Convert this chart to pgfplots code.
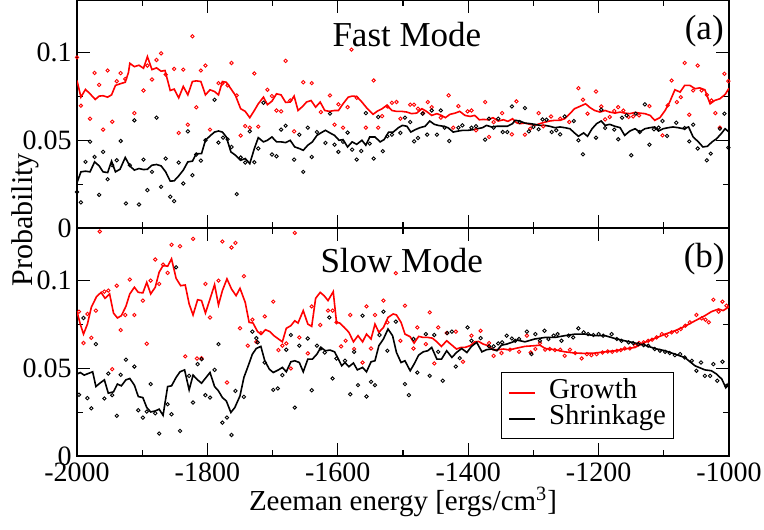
\documentclass[border=0pt]{standalone}
\usepackage{fontspec}
\setmainfont{Liberation Serif}
\usepackage{pgfplots}
\pgfplotsset{compat=1.18}
\begin{document}
\begin{tikzpicture}
\pgfplotsset{
  panel/.style={
    scale only axis, width=326pt, height=114pt,
    xmin=-2000, xmax=-1000, ymin=0, ymax=0.13,
    xtick={-2000,-1800,-1600,-1400,-1200,-1000}, minor x tick num=1,
    ytick={0,0.05,0.1}, yticklabels={0,0.05,0.1}, minor y tick num=1,
    tick align=inside, tick pos=both,
    major tick length=6.3pt, minor tick length=3.2pt,
    axis line style={line width=0.6pt},
    every tick/.style={black, line width=0.6pt},
    /pgf/number format/assume math mode=true,
    tick label style={font=\fontsize{14}{16}\selectfont},
    yticklabel style={inner xsep=2.5pt, inner ysep=0pt},
    xticklabel style={inner ysep=0pt, inner xsep=0pt, yshift=-3.3pt},
  },
  gline/.style={red, line width=0.8pt},
  sline/.style={black, line width=0.8pt},
  gdot/.style={only marks, mark=o, mark size=0.85pt, red, mark options={line width=0.45pt}, forget plot},
  sdot/.style={only marks, mark=o, mark size=0.85pt, black, mark options={line width=0.45pt}, forget plot},
}
% ---------------- top panel: Fast Mode ----------------
\begin{axis}[panel, at={(0,114pt)}, xticklabels={}]
\addplot[gdot] coordinates {(-2000,0.0973) (-1994,0.0697) (-1980,0.0623) (-1973,0.0884) (-1966,0.0816) (-1960,0.0561) (-1953,0.0898) (-1946,0.0606) (-1939,0.0837) (-1933,0.0883) (-1926,0.0850) (-1912,0.0655) (-1898,0.0784) (-1892,0.0926) (-1885,0.0847) (-1878,0.0958) (-1871,0.0996) (-1864,0.0875) (-1851,0.0907) (-1844,0.0542) (-1837,0.0903) (-1830,0.0589) (-1823,0.1093) (-1817,0.0688) (-1810,0.0898) (-1803,0.0926) (-1796,0.0561) (-1783,0.0826) (-1777,0.0824) (-1769,0.0813) (-1763,0.0941) (-1755,0.0756) (-1749,0.0527) (-1742,0.0581) (-1735,0.0572) (-1728,0.0881) (-1722,0.0578) (-1708,0.0788) (-1701,0.0752) (-1694,0.0670) (-1687,0.0665) (-1680,0.0953) (-1673,0.0727) (-1667,0.0551)
(-1653,0.0831) (-1640,0.0826) (-1626,0.0661) (-1612,0.0756) (-1605,0.0589) (-1599,0.0705) (-1592,0.0572) (-1585,0.0689) (-1579,0.1017) (-1571,0.0742) (-1557,0.0572) (-1545,0.0841) (-1538,0.0572) (-1532,0.0638) (-1524,0.0693) (-1517,0.0714) (-1510,0.0718) (-1504,0.0623) (-1489,0.0703) (-1483,0.0703) (-1477,0.0680) (-1469,0.0655) (-1462,0.0718) (-1456,0.0689) (-1442,0.0629) (-1430,0.0756) (-1423,0.0572) (-1415,0.0695) (-1401,0.0665) (-1395,0.0670) (-1388,0.0557) (-1374,0.0718) (-1368,0.0519) (-1361,0.0604) (-1348,0.0655) (-1333,0.0534)
(-1326,0.0722) (-1313,0.0532) (-1305,0.0566) (-1292,0.0655) (-1285,0.0580) (-1273,0.0636) (-1259,0.0623) (-1245,0.0604) (-1231,0.0797) (-1224,0.0731) (-1217,0.0652) (-1204,0.0778) (-1196,0.0693) (-1190,0.0619) (-1183,0.0633) (-1176,0.0667) (-1170,0.0689) (-1162,0.0670) (-1154,0.0633) (-1147,0.0636) (-1138,0.0642) (-1122,0.0695) (-1102,0.0528) (-1094,0.0699) (-1088,0.0841) (-1080,0.0718) (-1074,0.0746) (-1068,0.0941) (-1061,0.0646) (-1055,0.0784) (-1048,0.0926) (-1042,0.0784) (-1034,0.0759) (-1027,0.0727) (-1021,0.0655) (-1014,0.0572) (-1007,0.0879) (-1001,0.0837)};
\addplot[sdot] coordinates {(-2000,0.0205) (-1994,0.0146) (-1987,0.0377) (-1980,0.0492) (-1973,0.0405) (-1966,0.0189) (-1960,0.0434) (-1953,0.0278) (-1946,0.0358) (-1939,0.0386) (-1933,0.0496) (-1925,0.0140) (-1919,0.0358) (-1912,0.0614) (-1905,0.0134) (-1898,0.0390) (-1892,0.0216) (-1885,0.0320) (-1878,0.0629) (-1871,0.0235) (-1864,0.0396) (-1857,0.0178) (-1851,0.0153) (-1844,0.0373) (-1837,0.0254) (-1830,0.0551) (-1823,0.0301) (-1817,0.0419) (-1810,0.0384) (-1803,0.0500) (-1789,0.0731) (-1783,0.0487) (-1776,0.0515) (-1769,0.0506) (-1763,0.0462) (-1755,0.0193) (-1749,0.0402) (-1742,0.0373) (-1735,0.0551) (-1728,0.0375) (-1722,0.0453) (-1714,0.0714) (-1701,0.0419) (-1694,0.0409) (-1687,0.0561) (-1680,0.0583) (-1667,0.0390)
(-1659,0.0532) (-1653,0.0320) (-1646,0.0572) (-1640,0.0405) (-1632,0.0547) (-1619,0.0485) (-1612,0.0652) (-1605,0.0475) (-1599,0.0434) (-1592,0.0491) (-1585,0.0544) (-1578,0.0447) (-1571,0.0390) (-1564,0.0439) (-1557,0.0655) (-1551,0.0481) (-1545,0.0396) (-1538,0.0633) (-1531,0.0438) (-1524,0.0523) (-1517,0.0532) (-1504,0.0542) (-1497,0.0629) (-1489,0.0604) (-1483,0.0494) (-1477,0.0513) (-1470,0.0652) (-1463,0.0532) (-1456,0.0670) (-1448,0.0532) (-1442,0.0670) (-1436,0.0572) (-1429,0.0496) (-1415,0.0572) (-1409,0.0585) (-1395,0.0572) (-1388,0.0580) (-1374,0.0504) (-1368,0.0623) (-1361,0.0572) (-1354,0.0623) (-1347,0.0547) (-1340,0.0547) (-1333,0.0693)
(-1321,0.0604) (-1313,0.0684) (-1307,0.0551) (-1300,0.0576) (-1292,0.0563) (-1286,0.0619) (-1280,0.0617) (-1272,0.0547) (-1265,0.0557) (-1259,0.0534) (-1252,0.0636) (-1238,0.0610) (-1231,0.0500) (-1224,0.0420) (-1204,0.0515) (-1196,0.0674) (-1190,0.0570) (-1176,0.0561) (-1170,0.0506) (-1164,0.0629) (-1157,0.0642) (-1150,0.0415) (-1143,0.0652) (-1137,0.0547) (-1129,0.0705) (-1122,0.0475) (-1115,0.0563) (-1108,0.0572) (-1102,0.0610) (-1095,0.0525) (-1081,0.0600) (-1068,0.0570) (-1061,0.0494) (-1055,0.0589) (-1048,0.0453) (-1034,0.0386) (-1028,0.0424) (-1014,0.0566) (-1007,0.0652) (-1001,0.0458)};
\addplot[gline] coordinates {(-2000,0.0841) (-1994,0.0746) (-1987,0.0790) (-1980,0.0765) (-1972,0.0733) (-1966,0.0752) (-1960,0.0754) (-1953,0.0746) (-1947,0.0759) (-1941,0.0813) (-1934,0.0822) (-1926,0.0831) (-1921,0.0888) (-1919,0.0939) (-1912,0.0920) (-1905,0.0928) (-1898,0.0911) (-1892,0.0977) (-1885,0.0903) (-1878,0.0913) (-1871,0.0894) (-1865,0.0898) (-1857,0.0784) (-1851,0.0792) (-1844,0.0742) (-1837,0.0807) (-1830,0.0759) (-1823,0.0835) (-1817,0.0839) (-1810,0.0835) (-1803,0.0759) (-1796,0.0788) (-1789,0.0778) (-1783,0.0759) (-1777,0.0835) (-1771,0.0831) (-1764,0.0794) (-1757,0.0756) (-1749,0.0680) (-1742,0.0665) (-1735,0.0629) (-1728,0.0670) (-1722,0.0708) (-1714,0.0746) (-1708,0.0703) (-1701,0.0723) (-1694,0.0765) (-1687,0.0759) (-1680,0.0716) (-1673,0.0718) (-1667,0.0752)
(-1661,0.0670) (-1654,0.0693) (-1648,0.0718) (-1641,0.0727) (-1634,0.0689) (-1627,0.0718) (-1620,0.0670) (-1613,0.0665) (-1605,0.0670) (-1599,0.0670) (-1592,0.0708) (-1584,0.0746) (-1578,0.0752) (-1571,0.0750) (-1563,0.0718) (-1556,0.0686) (-1546,0.0648) (-1539,0.0667) (-1532,0.0680) (-1525,0.0699) (-1517,0.0670) (-1510,0.0665) (-1502,0.0665) (-1494,0.0661) (-1487,0.0652) (-1479,0.0655) (-1471,0.0680) (-1464,0.0665) (-1456,0.0642) (-1448,0.0652) (-1441,0.0642) (-1435,0.0629) (-1428,0.0648) (-1420,0.0655) (-1413,0.0665) (-1405,0.0642) (-1397,0.0636) (-1390,0.0642) (-1383,0.0617) (-1377,0.0619) (-1369,0.0617) (-1362,0.0629) (-1354,0.0610) (-1346,0.0617) (-1339,0.0608) (-1332,0.0623)
(-1326,0.0600) (-1321,0.0595) (-1313,0.0598) (-1305,0.0591) (-1298,0.0585) (-1290,0.0595) (-1282,0.0604) (-1275,0.0610) (-1267,0.0614) (-1259,0.0614) (-1252,0.0623) (-1244,0.0652) (-1237,0.0680) (-1229,0.0693) (-1220,0.0708) (-1213,0.0686) (-1206,0.0670) (-1198,0.0661) (-1190,0.0670) (-1183,0.0661) (-1175,0.0655) (-1167,0.0661) (-1160,0.0655) (-1152,0.0652) (-1144,0.0659) (-1137,0.0655) (-1129,0.0652) (-1121,0.0642) (-1114,0.0614) (-1106,0.0629) (-1098,0.0670) (-1091,0.0718) (-1083,0.0788) (-1075,0.0775) (-1068,0.0813) (-1060,0.0813) (-1052,0.0794) (-1045,0.0799) (-1037,0.0788) (-1029,0.0708) (-1022,0.0727) (-1014,0.0737) (-1006,0.0761) (-1000,0.0797)};
\addplot[sline] coordinates {(-2000,0.0258) (-1994,0.0320) (-1987,0.0324) (-1980,0.0320) (-1973,0.0377) (-1966,0.0354) (-1960,0.0320) (-1953,0.0316) (-1947,0.0381) (-1941,0.0320) (-1934,0.0335) (-1926,0.0402) (-1919,0.0354) (-1912,0.0330) (-1905,0.0339) (-1898,0.0333) (-1892,0.0335) (-1885,0.0358) (-1878,0.0362) (-1871,0.0354) (-1864,0.0320) (-1857,0.0267) (-1851,0.0269) (-1844,0.0297) (-1837,0.0330) (-1830,0.0377) (-1823,0.0381) (-1817,0.0424) (-1809,0.0424) (-1803,0.0500) (-1796,0.0525) (-1789,0.0547) (-1783,0.0553) (-1777,0.0547) (-1771,0.0519) (-1764,0.0434) (-1757,0.0415) (-1749,0.0386) (-1742,0.0396) (-1735,0.0367) (-1728,0.0453) (-1722,0.0515) (-1714,0.0491) (-1708,0.0500) (-1701,0.0519) (-1694,0.0491) (-1687,0.0491) (-1680,0.0487) (-1673,0.0500)
(-1666,0.0462) (-1659,0.0453) (-1653,0.0443) (-1646,0.0472) (-1639,0.0491) (-1632,0.0528) (-1626,0.0542) (-1619,0.0557) (-1612,0.0542) (-1605,0.0528) (-1598,0.0500) (-1592,0.0504) (-1585,0.0462) (-1578,0.0491) (-1571,0.0477) (-1563,0.0500) (-1557,0.0472) (-1551,0.0519) (-1543,0.0519) (-1535,0.0491) (-1529,0.0504) (-1522,0.0547) (-1515,0.0547) (-1507,0.0572) (-1501,0.0585) (-1494,0.0580) (-1488,0.0547) (-1481,0.0561) (-1474,0.0572) (-1466,0.0580) (-1459,0.0610) (-1452,0.0591) (-1446,0.0585) (-1438,0.0580) (-1431,0.0572) (-1423,0.0547) (-1415,0.0553) (-1408,0.0557) (-1400,0.0557) (-1392,0.0561) (-1386,0.0566) (-1378,0.0572) (-1372,0.0585) (-1364,0.0576) (-1356,0.0580) (-1349,0.0580) (-1340,0.0580) (-1332,0.0595)
(-1328,0.0614) (-1321,0.0610) (-1313,0.0598) (-1305,0.0595) (-1298,0.0591) (-1290,0.0585) (-1282,0.0585) (-1275,0.0580) (-1267,0.0572) (-1259,0.0576) (-1252,0.0572) (-1244,0.0566) (-1237,0.0542) (-1231,0.0523) (-1223,0.0542) (-1217,0.0523) (-1210,0.0566) (-1203,0.0595) (-1196,0.0610) (-1190,0.0585) (-1183,0.0591) (-1175,0.0580) (-1167,0.0572) (-1160,0.0528) (-1152,0.0553) (-1144,0.0566) (-1137,0.0547) (-1129,0.0566) (-1121,0.0572) (-1114,0.0576) (-1108,0.0553) (-1101,0.0566) (-1093,0.0572) (-1086,0.0576) (-1078,0.0572) (-1070,0.0566) (-1062,0.0576) (-1055,0.0519) (-1047,0.0491) (-1040,0.0462) (-1033,0.0466) (-1026,0.0491) (-1019,0.0509) (-1011,0.0542) (-1006,0.0566) (-1000,0.0547)};
\node[anchor=base, font=\fontsize{17.5}{20}\selectfont] at (rel axis cs:0.506,0.798) {Fast Mode};
\node[anchor=base, font=\fontsize{17.5}{20}\selectfont] at (rel axis cs:0.962,0.825) {(a)};
\end{axis}
% ---------------- bottom panel: Slow Mode ----------------
\begin{axis}[panel, at={(0,0)},
  xticklabels={-2000,-1800,-1600,-1400,-1200,-1000},
  xlabel={Zeeman energy [ergs/cm\textsuperscript{3}]},
  xlabel style={at={(axis description cs:0.5,-0.241)}, anchor=base, inner sep=0pt, font=\fontsize{14.5}{17}\selectfont},
  legend style={at={(0.65,0.367)}, anchor=north west, draw=black, line width=0.5pt,
    font=\fontsize{14.4}{16}\selectfont, inner xsep=3.65pt, inner ysep=3.5pt,
    row sep=0pt, column sep=6.5pt,
    nodes={inner sep=0pt, text height=9.5pt, text depth=3.5pt}},
  legend cell align=left,
  legend image code/.code={\draw[#1] (0pt,0pt) -- (13pt,0pt);},
]
\addplot[gdot] coordinates {(-1997,0.0823) (-1990,0.0644) (-1984,0.0810) (-1978,0.0674) (-1971,0.0829) (-1965,0.1280) (-1958,0.0937) (-1952,0.0943) (-1946,0.0495) (-1939,0.0971) (-1933,0.0718) (-1926,0.0804) (-1919,0.1006) (-1912,0.0804) (-1899,0.0886) (-1893,0.0640) (-1887,0.1000) (-1880,0.1120) (-1874,0.0981) (-1868,0.1091) (-1861,0.1044) (-1855,0.1204) (-1842,0.1196) (-1834,0.0568) (-1822,0.1238) (-1816,0.0556) (-1809,0.0558) (-1803,0.0981) (-1796,0.0790) (-1783,0.1000) (-1777,0.1223) (-1770,0.0419) (-1763,0.1189) (-1757,0.1215) (-1750,0.0728) (-1744,0.1025) (-1738,0.0629) (-1731,0.0777) (-1725,0.0651) (-1718,0.0701) (-1712,0.0796) (-1699,0.0880) (-1691,0.0604) (-1685,0.0629) (-1679,0.0642) (-1672,0.0499) (-1666,0.1272)
(-1659,0.0676) (-1646,0.0585) (-1640,0.0853) (-1627,0.0747) (-1615,0.0829) (-1608,0.0829) (-1602,0.0762) (-1595,0.0625) (-1588,0.0657) (-1581,0.0804) (-1575,0.0610) (-1562,0.0533) (-1556,0.0853) (-1549,0.0613) (-1543,0.0804) (-1530,0.0886) (-1524,0.0762) (-1511,0.1042) (-1504,0.0657) (-1497,0.0857) (-1484,0.0613) (-1478,0.0733) (-1465,0.0638) (-1459,0.0819) (-1452,0.0528) (-1446,0.0733) (-1433,0.0701) (-1419,0.0709) (-1408,0.0537) (-1395,0.0686) (-1381,0.0714) (-1368,0.0644) (-1361,0.0571) (-1349,0.0587) (-1336,0.0606)
(-1322,0.0594) (-1310,0.0686) (-1304,0.0590) (-1297,0.0610) (-1290,0.0644) (-1282,0.0606) (-1275,0.0610) (-1267,0.0604) (-1259,0.0606) (-1252,0.0571) (-1244,0.0606) (-1236,0.0587) (-1226,0.0556) (-1218,0.0581) (-1211,0.0575) (-1203,0.0581) (-1194,0.0590) (-1186,0.0596) (-1179,0.0594) (-1172,0.0600) (-1166,0.0604) (-1160,0.0613) (-1152,0.0613) (-1144,0.0629) (-1138,0.0644) (-1131,0.0648) (-1124,0.0657) (-1118,0.0663) (-1111,0.0676) (-1103,0.0695) (-1096,0.0686) (-1088,0.0705) (-1080,0.0709) (-1074,0.0724) (-1067,0.0743) (-1060,0.0762) (-1050,0.0804) (-1042,0.0785) (-1036,0.0777) (-1031,0.0762) (-1024,0.0891) (-1016,0.0823) (-1010,0.0880) (-1004,0.0857)};
\addplot[sdot] coordinates {(-1997,0.0349) (-1990,0.0787) (-1984,0.0330) (-1978,0.0272) (-1971,0.0638) (-1958,0.0328) (-1952,0.0470) (-1946,0.0347) (-1939,0.0229) (-1933,0.0463) (-1925,0.0549) (-1912,0.0510) (-1906,0.0261) (-1899,0.0219) (-1893,0.0253) (-1887,0.0410) (-1880,0.0244) (-1874,0.0128) (-1861,0.0295) (-1855,0.0238) (-1848,0.1076) (-1842,0.0143) (-1828,0.0457) (-1822,0.0305) (-1815,0.0524) (-1809,0.0552) (-1803,0.0347) (-1796,0.0333) (-1789,0.0491) (-1783,0.0638) (-1777,0.0190) (-1770,0.0219) (-1763,0.0120) (-1757,0.0371) (-1744,0.0337) (-1731,0.0709) (-1725,0.0672) (-1723,0.0648) (-1712,0.0533) (-1699,0.0377) (-1692,0.0385) (-1685,0.0461) (-1679,0.0606) (-1672,0.0690) (-1666,0.0276)
(-1659,0.0629) (-1646,0.0670) (-1640,0.0375) (-1632,0.0629) (-1626,0.0613) (-1620,0.0590) (-1613,0.0790) (-1608,0.0442) (-1602,0.0556) (-1589,0.0543) (-1581,0.0352) (-1575,0.0594) (-1569,0.0404) (-1562,0.0800) (-1556,0.0339) (-1549,0.0423) (-1543,0.0404) (-1536,0.0690) (-1530,0.0823) (-1524,0.0600) (-1511,0.0766) (-1497,0.0410) (-1491,0.0347) (-1484,0.0667) (-1478,0.0476) (-1465,0.0695) (-1459,0.0457) (-1452,0.0690) (-1446,0.0594) (-1439,0.0429) (-1432,0.0701) (-1425,0.0709) (-1419,0.0510) (-1413,0.0558) (-1401,0.0733) (-1395,0.0657) (-1381,0.0672) (-1368,0.0625) (-1361,0.0625) (-1354,0.0642) (-1348,0.0648) (-1341,0.0686) (-1333,0.0670) (-1328,0.0657)
(-1322,0.0667) (-1310,0.0709) (-1303,0.0581) (-1297,0.0695) (-1290,0.0657) (-1283,0.0714) (-1277,0.0667) (-1269,0.0686) (-1263,0.0695) (-1257,0.0657) (-1246,0.0686) (-1239,0.0676) (-1231,0.0728) (-1223,0.0705) (-1216,0.0695) (-1208,0.0690) (-1200,0.0695) (-1193,0.0686) (-1180,0.0695) (-1172,0.0667) (-1165,0.0657) (-1154,0.0648) (-1147,0.0644) (-1139,0.0638) (-1131,0.0632) (-1124,0.0629) (-1114,0.0610) (-1106,0.0600) (-1098,0.0594) (-1091,0.0587) (-1083,0.0575) (-1075,0.0581) (-1068,0.0562) (-1057,0.0543) (-1050,0.0486) (-1043,0.0533) (-1037,0.0457) (-1029,0.0457) (-1024,0.0524) (-1018,0.0429) (-1010,0.0537) (-1004,0.0400)};
\addplot[gline] coordinates {(-2000,0.0823) (-1995,0.0752) (-1990,0.0695) (-1984,0.0752) (-1978,0.0848) (-1970,0.0909) (-1963,0.0933) (-1957,0.0899) (-1950,0.0924) (-1944,0.0815) (-1938,0.0787) (-1932,0.0800) (-1925,0.0853) (-1919,0.0924) (-1912,0.0962) (-1906,0.0933) (-1899,0.0930) (-1893,0.0990) (-1887,0.0924) (-1880,0.0962) (-1874,0.1048) (-1868,0.1086) (-1861,0.1082) (-1855,0.1124) (-1848,0.1013) (-1841,0.0971) (-1834,0.0975) (-1828,0.0867) (-1822,0.0804) (-1815,0.0891) (-1809,0.0886) (-1803,0.0815) (-1796,0.0895) (-1789,0.0977) (-1783,0.0861) (-1777,0.0943) (-1770,0.1010) (-1763,0.0952) (-1756,0.0914) (-1750,0.0956) (-1742,0.0876) (-1736,0.0762) (-1730,0.0758) (-1723,0.0709) (-1717,0.0695) (-1711,0.0720) (-1704,0.0709) (-1698,0.0686) (-1691,0.0667) (-1685,0.0651) (-1679,0.0728) (-1672,0.0743) (-1666,0.0771)
(-1661,0.0758) (-1653,0.0829) (-1646,0.0752) (-1640,0.0739) (-1634,0.0899) (-1627,0.0933) (-1621,0.0914) (-1615,0.0886) (-1607,0.0937) (-1602,0.0762) (-1597,0.0758) (-1590,0.0733) (-1583,0.0705) (-1576,0.0651) (-1569,0.0686) (-1562,0.0651) (-1556,0.0695) (-1549,0.0667) (-1543,0.0752) (-1537,0.0705) (-1530,0.0733) (-1523,0.0790) (-1515,0.0810) (-1510,0.0804) (-1503,0.0762) (-1497,0.0695) (-1489,0.0680) (-1483,0.0644) (-1476,0.0682) (-1469,0.0676) (-1462,0.0676) (-1455,0.0672) (-1448,0.0651) (-1441,0.0625) (-1433,0.0657) (-1425,0.0632) (-1418,0.0610) (-1411,0.0619) (-1405,0.0619) (-1397,0.0629) (-1390,0.0651) (-1384,0.0653) (-1377,0.0638) (-1369,0.0629) (-1362,0.0606) (-1354,0.0606) (-1346,0.0610) (-1339,0.0606) (-1331,0.0610)
(-1328,0.0613) (-1313,0.0625) (-1298,0.0629) (-1290,0.0632) (-1282,0.0613) (-1267,0.0606) (-1252,0.0594) (-1236,0.0587) (-1221,0.0585) (-1206,0.0587) (-1190,0.0594) (-1175,0.0600) (-1160,0.0610) (-1144,0.0619) (-1129,0.0648) (-1114,0.0670) (-1098,0.0695) (-1083,0.0714) (-1068,0.0739) (-1052,0.0771) (-1037,0.0800) (-1027,0.0823) (-1016,0.0838) (-1009,0.0829) (-1000,0.0851)};
\addlegendentry{Growth}
\addplot[sline] coordinates {(-2000,0.0467) (-1995,0.0476) (-1989,0.0461) (-1983,0.0470) (-1976,0.0480) (-1971,0.0396) (-1965,0.0415) (-1958,0.0434) (-1952,0.0358) (-1944,0.0366) (-1938,0.0410) (-1932,0.0400) (-1925,0.0434) (-1919,0.0442) (-1912,0.0404) (-1906,0.0339) (-1899,0.0333) (-1893,0.0276) (-1887,0.0251) (-1880,0.0257) (-1874,0.0267) (-1868,0.0232) (-1861,0.0396) (-1855,0.0400) (-1848,0.0448) (-1842,0.0480) (-1835,0.0491) (-1828,0.0377) (-1822,0.0461) (-1815,0.0434) (-1809,0.0415) (-1802,0.0448) (-1796,0.0476) (-1789,0.0396) (-1783,0.0371) (-1777,0.0333) (-1771,0.0314) (-1764,0.0248) (-1758,0.0276) (-1750,0.0343) (-1744,0.0448) (-1737,0.0518) (-1731,0.0581) (-1725,0.0613) (-1718,0.0625) (-1712,0.0543) (-1705,0.0495) (-1699,0.0476) (-1691,0.0491) (-1685,0.0505) (-1679,0.0480) (-1672,0.0537) (-1666,0.0543)
(-1659,0.0533) (-1653,0.0480) (-1646,0.0552) (-1639,0.0552) (-1632,0.0581) (-1626,0.0619) (-1619,0.0600) (-1612,0.0604) (-1605,0.0594) (-1599,0.0552) (-1594,0.0514) (-1589,0.0533) (-1583,0.0509) (-1576,0.0530) (-1570,0.0491) (-1562,0.0505) (-1556,0.0480) (-1549,0.0537) (-1543,0.0543) (-1537,0.0629) (-1530,0.0667) (-1523,0.0724) (-1516,0.0686) (-1510,0.0590) (-1503,0.0533) (-1497,0.0543) (-1489,0.0486) (-1483,0.0524) (-1476,0.0575) (-1469,0.0594) (-1462,0.0600) (-1456,0.0619) (-1448,0.0552) (-1441,0.0552) (-1433,0.0600) (-1425,0.0562) (-1418,0.0590) (-1410,0.0613) (-1402,0.0590) (-1395,0.0625) (-1387,0.0648) (-1379,0.0594) (-1372,0.0606) (-1364,0.0610) (-1356,0.0600) (-1349,0.0632) (-1341,0.0638) (-1333,0.0648) (-1325,0.0661)
(-1313,0.0651) (-1298,0.0667) (-1282,0.0676) (-1267,0.0676) (-1252,0.0686) (-1236,0.0695) (-1221,0.0695) (-1206,0.0686) (-1190,0.0686) (-1175,0.0670) (-1160,0.0657) (-1144,0.0644) (-1129,0.0632) (-1114,0.0613) (-1098,0.0600) (-1083,0.0581) (-1068,0.0562) (-1052,0.0514) (-1037,0.0491) (-1027,0.0486) (-1019,0.0467) (-1011,0.0438) (-1005,0.0390) (-1000,0.0419)};
\addlegendentry{Shrinkage}
\node[anchor=base, font=\fontsize{17.5}{20}\selectfont] at (rel axis cs:0.498,0.804) {Slow Mode};
\node[anchor=base, font=\fontsize{17.5}{20}\selectfont] at (rel axis cs:0.962,0.826) {(b)};
\end{axis}
\node[rotate=90, anchor=base, inner sep=0pt, font=\fontsize{15}{18}\selectfont] at (-22pt,118pt) {Probability};
\pgfresetboundingbox
\useasboundingbox (-38.5pt,-36.5pt) rectangle (343.5pt,228pt);
\end{tikzpicture}
\end{document}
